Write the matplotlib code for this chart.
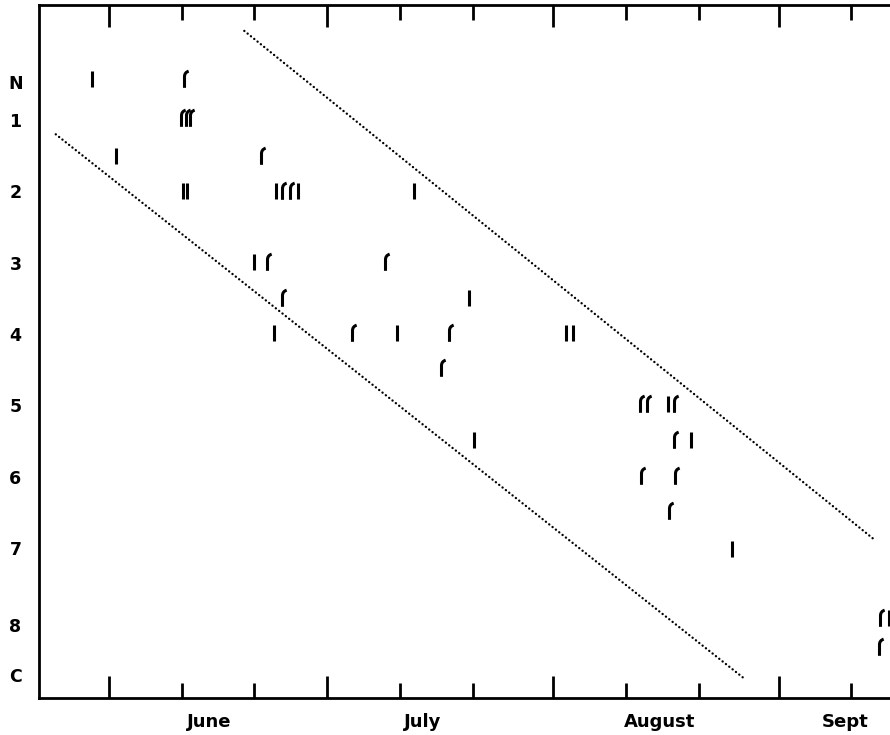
import numpy as np
import matplotlib
matplotlib.use("Agg")
import matplotlib.pyplot as plt
from matplotlib.path import Path
from matplotlib.transforms import blended_transform_factory

# x axis: days after 1 June ; y axis: stage position (N ... C)
stage_labels = ["N", "1", "2", "3", "4", "5", "6", "7", "8", "C"]
stage_ticks = [0.47, 1.0, 2.0, 3.0, 4.0, 5.0, 6.0, 7.0, 8.08, 8.78]

month_labels = ["June", "July", "August", "Sept"]
month_label_days = [13.8, 43.1, 75.6, 101.1]
month_start_days = [0, 30, 61, 92]
dekad_days = [10, 20, 40, 50, 71, 81, 102]

# straight-bar records
straight_days = [-2.36, 0.93, 10.18, 10.73, 22.95, 25.97, 41.9, 19.93, 49.46,
                 22.68, 39.57, 62.77, 63.74, 76.78, 50.13, 79.94, 85.58, 107.1]
straight_stage = [0.42, 1.5, 2.0, 2.0, 2.0, 2.0, 2.0, 2.99, 3.5,
                  3.98, 3.98, 3.98, 3.98, 4.98, 5.49, 5.49, 7.01, 7.98]

# hooked-bar records
hooked_days = [10.3, 9.9, 10.55, 11.1, 20.9, 23.8, 24.9, 21.7, 37.9, 23.8,
               33.4, 46.7, 45.6, 72.95, 73.9, 77.6, 77.6, 73.1, 77.75, 76.9,
               105.9, 105.8]
hooked_stage = [0.42, 0.97, 0.97, 0.97, 1.5, 2.0, 2.0, 2.99, 2.99, 3.5,
                3.98, 3.98, 4.48, 4.98, 4.98, 4.98, 5.49, 5.99, 5.99, 6.48,
                7.98, 8.39]

# dotted boundary lines
upper_line_days = [18.6, 105.0]
upper_line_stage = [-0.25, 6.87]
lower_line_days = [-7.3, 87.4]
lower_line_stage = [1.2, 8.84]

bar_marker = Path([(0, -1), (0, 1)], [Path.MOVETO, Path.LINETO])
hook_marker = Path([(0, -1), (0, 0.35), (0, 0.85), (0.5, 1.0)],
                   [Path.MOVETO, Path.LINETO, Path.CURVE3, Path.CURVE3])

fig = plt.figure(figsize=(8.9, 7.35), dpi=100)
ax = fig.add_axes([39 / 890, 37 / 735, 851 / 890, 693 / 735])

ax.set_xlim(-9.6, 107.3)
ax.set_ylim(9.103, -0.613)

for xs, ys in [(upper_line_days, upper_line_stage),
               (lower_line_days, lower_line_stage)]:
    ax.plot(xs, ys, color="black", lw=1.7,
            linestyle=(0, (0.05, 1.75)), dash_capstyle="round")

ax.plot(straight_days, straight_stage, linestyle="none", marker=bar_marker,
        markersize=11.5, markeredgewidth=2.2, markeredgecolor="black",
        markerfacecolor="none", clip_on=False)
ax.plot(hooked_days, hooked_stage, linestyle="none", marker=hook_marker,
        markersize=12, markeredgewidth=2.2, markeredgecolor="black",
        markerfacecolor="none", clip_on=False)

for side in ["left", "top", "bottom"]:
    ax.spines[side].set_linewidth(2.0)
ax.spines["right"].set_visible(False)

ax.set_xticks(month_start_days)
ax.set_xticks(dekad_days, minor=True)
ax.tick_params(axis="x", which="major", direction="in", top=True, bottom=True,
               length=16, width=2.0, labelbottom=False)
ax.tick_params(axis="x", which="minor", direction="in", top=True, bottom=True,
               length=10.5, width=2.0)

ax.set_yticks(stage_ticks)
ax.set_yticklabels(stage_labels, fontsize=12.5, fontweight="bold",
                   fontfamily="DejaVu Sans")
ax.tick_params(axis="y", length=0, pad=17)
for lab in ax.get_yticklabels():
    lab.set_horizontalalignment("center")

trans = blended_transform_factory(ax.transData, ax.transAxes)
for d, lbl in zip(month_label_days, month_labels):
    ax.annotate(lbl, xy=(d, 0), xycoords=trans, xytext=(0, -17.5),
                textcoords="offset points", ha="center", va="center",
                fontsize=13, fontweight="bold", fontfamily="DejaVu Sans")

fig.savefig("out.png", dpi=100)
